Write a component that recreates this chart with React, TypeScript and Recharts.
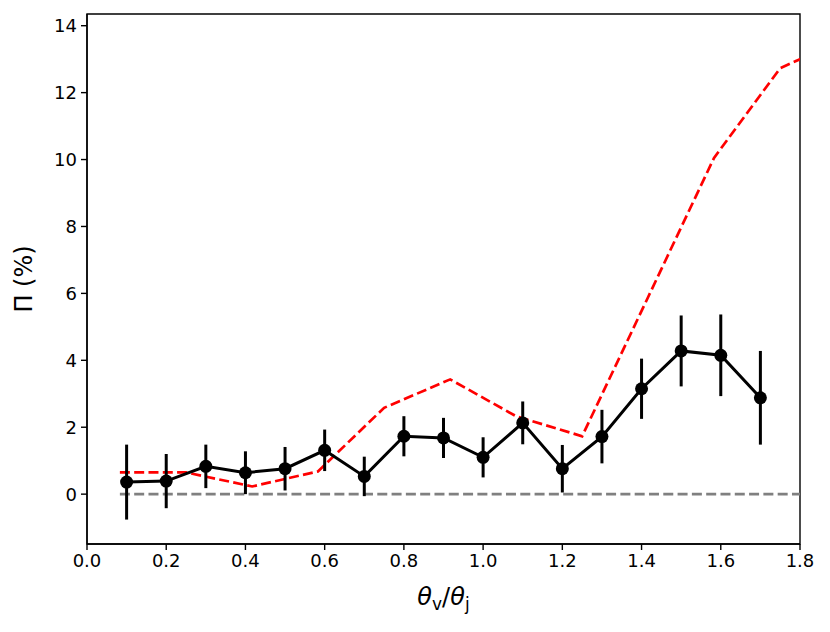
import { LineChart, Line, XAxis, YAxis, ErrorBar, ReferenceArea, Label } from "recharts";

// observed polarisation with 1-sigma errors
const obsTheta = [0.1, 0.2, 0.3, 0.4, 0.5, 0.6, 0.7, 0.8, 0.9, 1.0, 1.1, 1.2, 1.3, 1.4, 1.5, 1.6, 1.7];
const obsPi = [0.36, 0.39, 0.83, 0.64, 0.76, 1.31, 0.53, 1.73, 1.68, 1.1, 2.13, 0.76, 1.72, 3.15, 4.28, 4.15, 2.88];
const obsErr = [1.12, 0.81, 0.65, 0.64, 0.65, 0.62, 0.59, 0.6, 0.6, 0.6, 0.64, 0.71, 0.8, 0.9, 1.06, 1.22, 1.4];

// model curve
const modelTheta = [0.083, 0.25, 0.417, 0.583, 0.75, 0.917, 1.083, 1.25, 1.417, 1.583, 1.75, 1.917];
const modelPi = [0.65, 0.65, 0.23, 0.68, 2.58, 3.43, 2.33, 1.73, 5.9, 10.05, 12.73, 13.63];
const zeroPi = [0, 0, 0, 0, 0, 0, 0, 0, 0, 0, 0, 0];

const xTicks = [0, 0.2, 0.4, 0.6, 0.8, 1.0, 1.2, 1.4, 1.6, 1.8];
const yTicks = [0, 2, 4, 6, 8, 10, 12, 14];

const xMin = 0;
const xMax = 1.8;
const yMin = -1.49;
const yMax = 14.35;

const obsData = obsTheta.map((x, i) => ({ x, y: obsPi[i], err: obsErr[i] }));
const modelData = modelTheta.map((x, i) => ({ x, y: modelPi[i] }));
const zeroData = modelTheta.map((x, i) => ({ x, y: zeroPi[i] }));

const font = "DejaVu Sans";
const tickStyle = { fill: "#000", fontSize: 18, fontFamily: font };

const XLabel = (props: any) => {
  const vb = props.viewBox || {};
  const cx = vb.x + vb.width / 2;
  return (
    <text x={cx} y={605} textAnchor="middle" fontFamily={font} fontSize={24} fill="#000">
      <tspan fontStyle="italic">θ</tspan>
      <tspan fontSize={17} dy={5}>v</tspan>
      <tspan dy={-5}>/</tspan>
      <tspan fontStyle="italic">θ</tspan>
      <tspan fontSize={17} dy={5}>j</tspan>
    </text>
  );
};

const YLabel = () => (
  <text
    x={24}
    y={279}
    textAnchor="middle"
    dominantBaseline="central"
    transform="rotate(-90 24 279)"
    fontFamily={font}
    fontSize={24}
    fill="#000"
  >
    Π (%)
  </text>
);

const App = () => {
  return (
    <div style={{ position: "absolute", left: 0, top: 0, background: "#fff" }}>
      <LineChart width={830} height={632} margin={{ top: 14, right: 30, bottom: 0, left: 0 }}>
        <XAxis
          type="number"
          dataKey="x"
          domain={[xMin, xMax]}
          ticks={xTicks}
          allowDataOverflow
          height={88}
          stroke="#000"
          strokeWidth={1.4}
          tickSize={6}
          tickMargin={4}
          tick={tickStyle}
          tickFormatter={(v: number) => v.toFixed(1)}
        >
          <Label content={<XLabel />} />
        </XAxis>
        <YAxis
          type="number"
          dataKey="y"
          domain={[yMin, yMax]}
          ticks={yTicks}
          allowDataOverflow
          width={87}
          stroke="#000"
          strokeWidth={1.4}
          tickSize={6}
          tickMargin={4}
          tick={tickStyle}
        >
          <Label content={<YLabel />} />
        </YAxis>
        <Line
          data={modelData}
          dataKey="y"
          type="linear"
          stroke="#ff0000"
          strokeWidth={2.7}
          strokeDasharray="10 4.3"
          dot={false}
          isAnimationActive={false}
        />
        <Line
          data={zeroData}
          dataKey="y"
          type="linear"
          stroke="#808080"
          strokeWidth={2.7}
          strokeDasharray="10 4.3"
          dot={false}
          isAnimationActive={false}
        />
        <Line
          data={obsData}
          dataKey="y"
          type="linear"
          stroke="#000"
          strokeWidth={3}
          dot={{ r: 6.5, fill: "#000", stroke: "#000", strokeWidth: 0 }}
          isAnimationActive={false}
        >
          <ErrorBar dataKey="err" direction="y" width={0} stroke="#000" strokeWidth={3} />
        </Line>
        <ReferenceArea
          x1={xMin}
          x2={xMax}
          y1={yMin}
          y2={yMax}
          fill="none"
          fillOpacity={0}
          stroke="#000"
          strokeWidth={1.4}
        />
      </LineChart>
    </div>
  );
};

export default App;
